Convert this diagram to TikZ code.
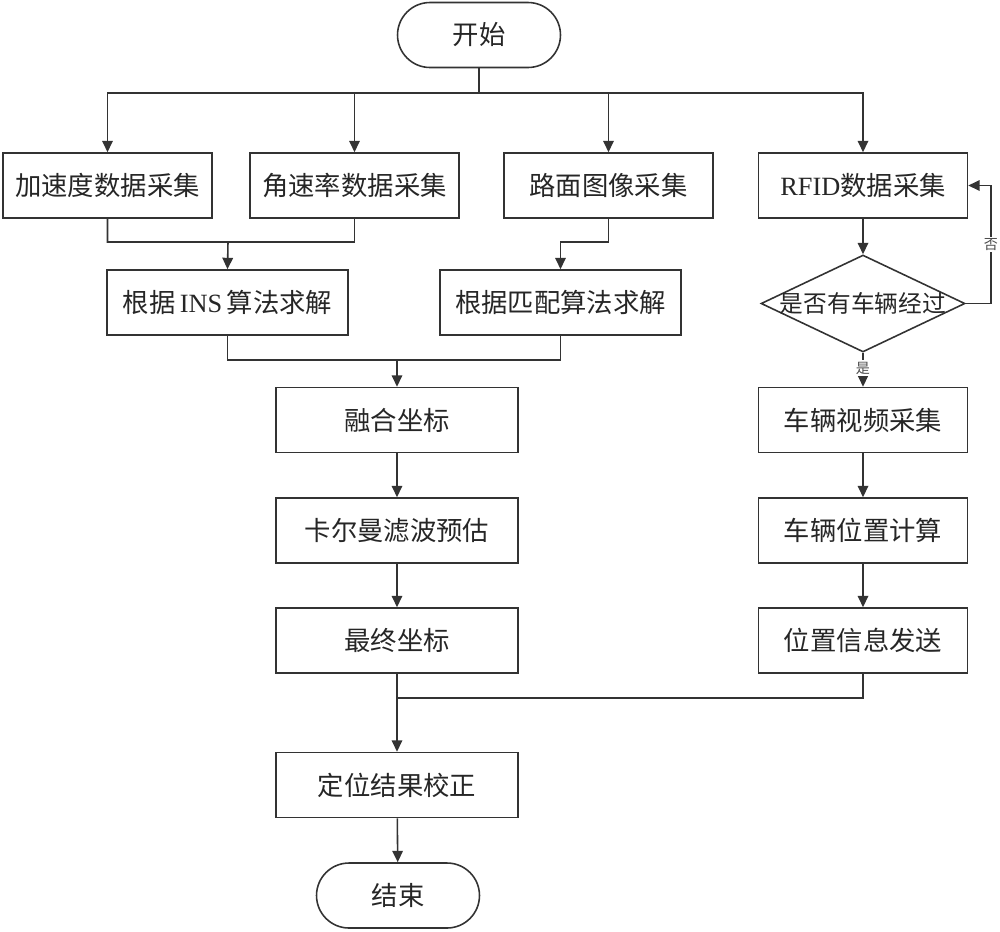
\documentclass[tikz,border=0pt]{standalone}
\usepackage{fontspec}
\setmainfont{Liberation Serif}
\newfontfamily\cjk{Noto Sans CJK SC}
\usetikzlibrary{arrows.meta,shapes.geometric}
\begin{document}
\begin{tikzpicture}[x=0.02cm,y=-0.02cm]
\tikzset{box/.style={draw=black!80,line width=0.9pt,minimum width=4.18cm,minimum height=1.3cm,inner sep=0pt,font=\cjk\fontsize{15}{18}\selectfont,text=black!85},
wide/.style={box,minimum width=4.83cm},
term/.style={box,minimum width=3.26cm,rounded corners=0.65cm},
dec/.style={diamond,draw=black!80,line width=0.9pt,minimum width=4.08cm,minimum height=1.94cm,inner sep=0pt},
tag/.style={fill=white,inner sep=1pt,font=\cjk\fontsize{8}{9}\selectfont,text=black!70},
ln/.style={draw=black!80,line width=0.9pt},
arr/.style={ln,-{Triangle[length=6.5pt,width=6pt]}}}
\useasboundingbox (0,0) rectangle (1000,931);
% left branch
\node (start) at (479,35) [term] {开始};
\node (acc) at (107.5,185.5) [box] {加速度数据采集};
\node (gyro) at (354.5,185.5) [box] {角速率数据采集};
\node (img) at (608.5,185.5) [box] {路面图像采集};
\node (ins) at (227.5,302.5) [wide] {根据\,{\rmfamily INS}\,算法求解};
\node (match) at (560.5,302.5) [wide] {根据匹配算法求解};
\node (fuse) at (397,420) [wide] {融合坐标};
\node (kalman) at (397,530.5) [wide] {卡尔曼滤波预估};
\node (final) at (397,640.5) [wide] {最终坐标};
\node (fix) at (397,785) [wide] {定位结果校正};
\node (end) at (398,895.5) [term] {结束};
% right branch
\node (rfid) at (863,185.5) [box] {{\rmfamily RFID}数据采集};
\node (chk) at (863,303.5) [dec] {};
\node (chktext) at (chk) [font=\cjk\fontsize{13.5}{16}\selectfont,text=black!85] {是否有车辆经过};
\node (video) at (863,420) [box] {车辆视频采集};
\node (pos) at (863,530.5) [box] {车辆位置计算};
\node (send) at (863,640.5) [box] {位置信息发送};
\coordinate (bus) at (479,93);
\coordinate (j1) at (228,242);
\coordinate (j2) at (560.5,242);
\coordinate (j3) at (397,360);
\coordinate (j4) at (397,698);
\coordinate (back) at (991,303.5);
\draw[ln] (start.south) -- (bus);
\draw[arr] (bus) -| (acc.north);
\draw[arr] (bus) -| (gyro.north);
\draw[arr] (bus) -| (img.north);
\draw[arr] (bus) -| (rfid.north);
\draw[ln] (gyro.south) |- (j1);
\draw[arr] (acc.south) |- (j1) -- (ins.north);
\draw[arr] (img.south) |- (j2) -- (match.north);
\draw[ln] (ins.south) |- (j3) (match.south) |- (j3);
\draw[arr] (j3) -- (fuse.north);
\draw[arr] (fuse) -- (kalman);
\draw[arr] (kalman) -- (final);
\draw[arr] (rfid) -- (chk.north);
\draw[arr] (chk.south) -- node[tag,pos=0.45] {是} (video.north);
\draw[arr] (chk.east) -- (back) |- node[tag,pos=0.25] {否} (rfid.east);
\draw[arr] (video) -- (pos);
\draw[arr] (pos) -- (send);
\draw[ln] (send.south) |- (j4);
\draw[arr] (final.south) -- (fix.north);
\draw[arr] (fix) -- (end);
\end{tikzpicture}
\end{document}
